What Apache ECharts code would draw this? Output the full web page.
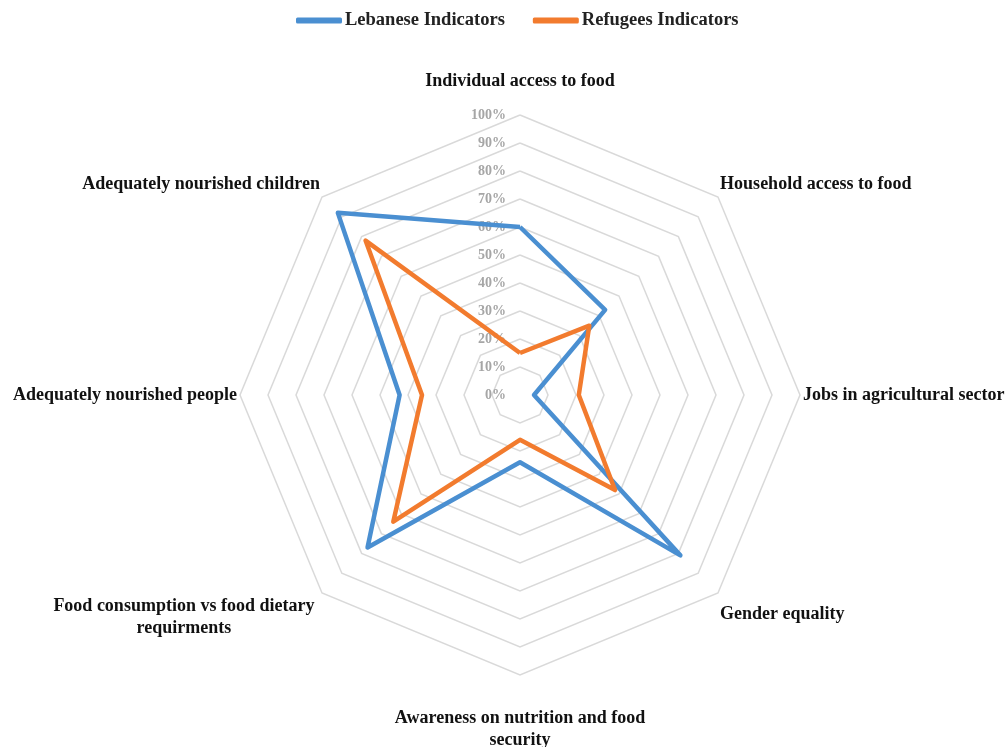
<!DOCTYPE html>
<html>
<head>
<meta charset="utf-8">
<script src="https://cdn.jsdelivr.net/npm/echarts@6/dist/echarts.min.js"></script>
<style>
    html, body { margin: 0; padding: 0; background: #fff; }
    #chart { width: 1005px; height: 747px; }
</style>
</head>
<body>
<div id="chart"></div>
<script>
// indicators listed counterclockwise starting at the top
var indicatorNames = [
    "Individual access to food",
    "Adequately nourished children",
    "Adequately nourished people",
    "Food consumption vs food dietary\nrequirments",
    "Awareness on nutrition and food\nsecurity",
    "Gender equality",
    "Jobs in agricultural sector",
    "Household access to food"
];
var lebaneseValues = [60, 92, 43, 77, 24, 81, 5, 43];
var refugeesValues = [15, 78, 35, 64, 16, 48, 21, 35];
var seriesNames = ["Lebanese Indicators", "Refugees Indicators"];
var seriesColors = ["#4a8fd1", "#f27b2e"];
var scaleMax = 100;
var scaleStep = 10;

var serif = "'Liberation Serif', 'Times New Roman', serif";
var center = [520, 395];
var radius = 280;

var chartDom = document.getElementById("chart");
var myChart = echarts.init(chartDom);

var indicators = [];
for (var i = 0; i < indicatorNames.length; i++) {
    indicators.push({ name: indicatorNames[i], max: scaleMax, min: 0 });
}

// rich style key for each label (nudges the labels like the original layout)
var nameStyle = ["top", "up", "plain", "wide", "down", "gender", "plain", "up"];
// blank spacer line put before (+) or after (-) the label text
var spacer = { top: -20, wide: 44, down: 29 };

function nameRich(pad, extra) {
    var s = { fontFamily: serif, fontWeight: "bold", fontSize: 18, color: "#111", lineHeight: 22, padding: pad };
    if (extra) {
        for (var k in extra) s[k] = extra[k];
    }
    return s;
}

var option = {
    backgroundColor: "#fff",
    animation: false,
    color: seriesColors,
    legend: {
        top: 6,
        left: 291,
        itemWidth: 46,
        itemHeight: 6,
        itemGap: 28,
        icon: "roundRect",
        textStyle: { fontFamily: serif, fontWeight: "bold", fontSize: 18.5, color: "#222", padding: [0, 0, 0, -2] },
        data: seriesNames
    },
    radar: {
        center: center,
        radius: radius,
        startAngle: 90,
        shape: "polygon",
        splitNumber: scaleMax / scaleStep,
        nameGap: 3,
        indicator: indicators,
        axisName: {
            color: "#111",
            fontFamily: serif,
            fontWeight: "bold",
            fontSize: 18,
            formatter: function (name) {
                var key = nameStyle[indicatorNames.indexOf(name)];
                var lines = name.split("\n");
                var txt = "{" + key + "|" + lines[0] + "}";
                if (lines.length > 1) txt += "\n{" + key + "|" + lines[1] + "}";
                var sp = spacer[key];
                if (sp > 0) txt = "{sp" + key + "| }\n" + txt;
                if (sp < 0) txt = txt + "\n{sp" + key + "| }";
                return txt;
            },
            rich: {
                top: nameRich([0, 0, 0, 0]),
                sptop: { fontSize: 10, lineHeight: 20 },
                up: nameRich([0, 0, 22, 0]),
                plain: nameRich([0, 0, 0, 0]),
                wide: nameRich([0, 0, 0, 0], { width: 272, align: "center" }),
                spwide: { fontSize: 10, lineHeight: 44 },
                down: nameRich([0, 0, 0, 0]),
                spdown: { fontSize: 10, lineHeight: 29 },
                gender: nameRich([38, 0, 0, 0])
            }
        },
        splitLine: { lineStyle: { color: "#d9d9d9", width: 1.5 } },
        splitArea: { show: false },
        axisLine: { show: false },
        axisTick: { show: false },
        axisLabel: { show: false }
    },
    polar: {
        center: center,
        radius: radius
    },
    angleAxis: {
        type: "value",
        startAngle: 90,
        show: false
    },
    radiusAxis: {
        type: "value",
        min: 0,
        max: scaleMax,
        interval: scaleStep,
        axisLine: { show: false },
        axisTick: { show: false },
        splitLine: { show: false },
        axisLabel: {
            formatter: "{value}%",
            color: "#a6a6a6",
            fontFamily: serif,
            fontWeight: "bold",
            fontSize: 14,
            margin: 14
        }
    },
    series: [{
        type: "radar",
        symbol: "none",
        data: [
            { name: seriesNames[0], value: lebaneseValues, lineStyle: { width: 4.5, color: seriesColors[0] } },
            { name: seriesNames[1], value: refugeesValues, lineStyle: { width: 4.5, color: seriesColors[1] } }
        ]
    }]
};
myChart.setOption(option);
</script>
</body>
</html>
